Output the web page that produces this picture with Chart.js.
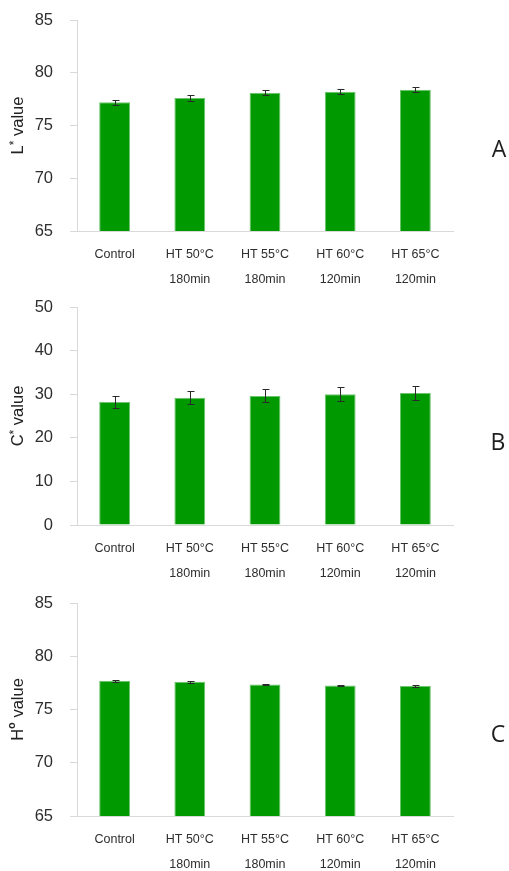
<!DOCTYPE html>
<html>
<head>
<meta charset="utf-8">
<script src="https://cdn.jsdelivr.net/npm/chart.js@4.4.1/dist/chart.umd.min.js"></script>
<style>
  html, body { margin: 0; padding: 0; background: #fff; width: 509px; height: 871px; overflow: hidden; }
  canvas.panel { position: absolute; left: 0; }
  .tag { position: absolute; font-family: "Open Sans", sans-serif; font-size: 23px; font-weight: 400;
         color: #1e1e1e; line-height: 1; transform: translate(-50%, -50%); }
</style>
</head>
<body>
<canvas id="panelL" class="panel" width="509" height="291" style="top:0px"></canvas>
<canvas id="panelC" class="panel" width="509" height="295" style="top:290px"></canvas>
<canvas id="panelH" class="panel" width="509" height="291" style="top:585px"></canvas>
<div class="tag" style="left:499px; top:148px">A</div>
<div class="tag" style="left:498px; top:441px">B</div>
<div class="tag" style="left:498px; top:733px">C</div>

<script>
// Treatments (two-line labels under each bar)
const categories = [
  ['Control'],
  ['HT 50°C', '180min'],
  ['HT 55°C', '180min'],
  ['HT 60°C', '120min'],
  ['HT 65°C', '120min']
];

// L* (lightness): means and standard deviations
const lightValues = [77.2, 77.6, 78.1, 78.2, 78.4];
const lightErrors = [0.25, 0.25, 0.25, 0.25, 0.25];
const lightTicks = [65, 70, 75, 80, 85];

// C* (chroma)
const chromaValues = [28.2, 29.2, 29.6, 30.0, 30.3];
const chromaErrors = [1.45, 1.5, 1.5, 1.6, 1.55];
const chromaTicks = [0, 10, 20, 30, 40, 50];

// H° (hue angle)
const hueValues = [77.7, 77.6, 77.35, 77.25, 77.2];
const hueErrors = [0.08, 0.08, 0.08, 0.08, 0.08];
const hueTicks = [65, 70, 75, 80, 85];

const SANS = '"Liberation Sans", Arial, sans-serif';
const AXIS_GREY = '#d9d9d9';
const TEXT = '#2e2e2e';

// Vertical error bars with small caps, centred on each bar
const errorBars = {
  id: 'errorBars',
  afterDatasetsDraw(chart, args, opts) {
    const meta = chart.getDatasetMeta(0);
    const yScale = chart.scales.y;
    const values = chart.data.datasets[0].data;
    const ctx = chart.ctx;
    ctx.save();
    ctx.strokeStyle = opts.color;
    ctx.lineWidth = 1;
    meta.data.forEach((bar, i) => {
      const x = Math.round(bar.x) + 0.5;
      const yHi = Math.round(yScale.getPixelForValue(values[i] + opts.errors[i])) + 0.5;
      const yLo = Math.round(yScale.getPixelForValue(values[i] - opts.errors[i])) + 0.5;
      ctx.beginPath();
      ctx.moveTo(x, yHi); ctx.lineTo(x, yLo);
      ctx.moveTo(x - 3, yHi); ctx.lineTo(x + 4, yHi);
      ctx.moveTo(x - 3, yLo); ctx.lineTo(x + 4, yLo);
      ctx.stroke();
    });
    ctx.restore();
  }
};

// Rotated y-axis title made of runs, so a superscript can be raised
const axisTitle = {
  id: 'axisTitle',
  afterDraw(chart, args, opts) {
    const { ctx, chartArea } = chart;
    ctx.save();
    ctx.translate(opts.baselineX, (chartArea.top + chartArea.bottom) / 2);
    ctx.rotate(-Math.PI / 2);
    ctx.fillStyle = opts.color;
    ctx.textBaseline = 'alphabetic';
    ctx.textAlign = 'left';
    let total = 0;
    const widths = opts.runs.map(r => { ctx.font = r.font; const w = ctx.measureText(r.text).width; total += w; return w; });
    let x = -total / 2;
    opts.runs.forEach((r, i) => {
      ctx.font = r.font;
      ctx.fillText(r.text, x, -(r.rise || 0));
      x += widths[i];
    });
    ctx.restore();
  }
};

function titleRuns(main, sup, supFont, rise) {
  return [
    { text: main, font: '16.5px ' + SANS },
    { text: sup, font: supFont + ' ' + SANS, rise: rise },
    { text: ' value', font: '16.5px ' + SANS }
  ];
}

function makePanel(id, values, errors, ticks, runs, padTop) {
  const ctx = document.getElementById(id);
  return new Chart(ctx, {
    type: 'bar',
    data: {
      labels: categories,
      datasets: [{
        data: values,
        backgroundColor: '#009900',
        borderColor: '#6cc46c',
        borderWidth: 1,
        barPercentage: 0.41,
        categoryPercentage: 1
      }]
    },
    options: {
      responsive: false,
      animation: false,
      devicePixelRatio: 1,
      layout: { padding: { top: padTop, right: 56, left: 0, bottom: 0 } },
      plugins: {
        legend: { display: false },
        tooltip: { enabled: false },
        errorBars: { errors: errors, color: '#2a2a2a' },
        axisTitle: { runs: runs, baselineX: 23, color: '#222' }
      },
      scales: {
        x: {
          grid: { display: false, drawTicks: false },
          border: { display: true, color: AXIS_GREY, width: 1 },
          ticks: {
            color: TEXT,
            font: { family: SANS, size: 12.5, lineHeight: 2 },
            padding: 11,
            maxRotation: 0,
            autoSkip: false
          },
          afterFit(scale) {
            scale.height = 60;
            scale.paddingLeft = 0; scale.paddingRight = 0;
          }
        },
        y: {
          min: ticks[0],
          max: ticks[ticks.length - 1],
          afterBuildTicks(scale) { scale.ticks = ticks.map(v => ({ value: v })); },
          grid: { display: true, drawOnChartArea: false, drawTicks: true, tickLength: 7, color: AXIS_GREY },
          border: { display: true, color: AXIS_GREY, width: 1 },
          ticks: {
            color: TEXT,
            font: { family: SANS, size: 16.5 },
            padding: 17
          },
          afterFit(scale) {
            scale.width = 77;
            scale.paddingTop = 0; scale.paddingBottom = 0;
          }
        }
      }
    },
    plugins: [errorBars, axisTitle]
  });
}

makePanel('panelL', lightValues, lightErrors, lightTicks, titleRuns('L', '*', '12px', 5), 20);
makePanel('panelC', chromaValues, chromaErrors, chromaTicks, titleRuns('C', '*', '12px', 5), 17);
makePanel('panelH', hueValues, hueErrors, hueTicks, titleRuns('H', 'o', 'bold 11px', 8), 18);
</script>
</body>
</html>
